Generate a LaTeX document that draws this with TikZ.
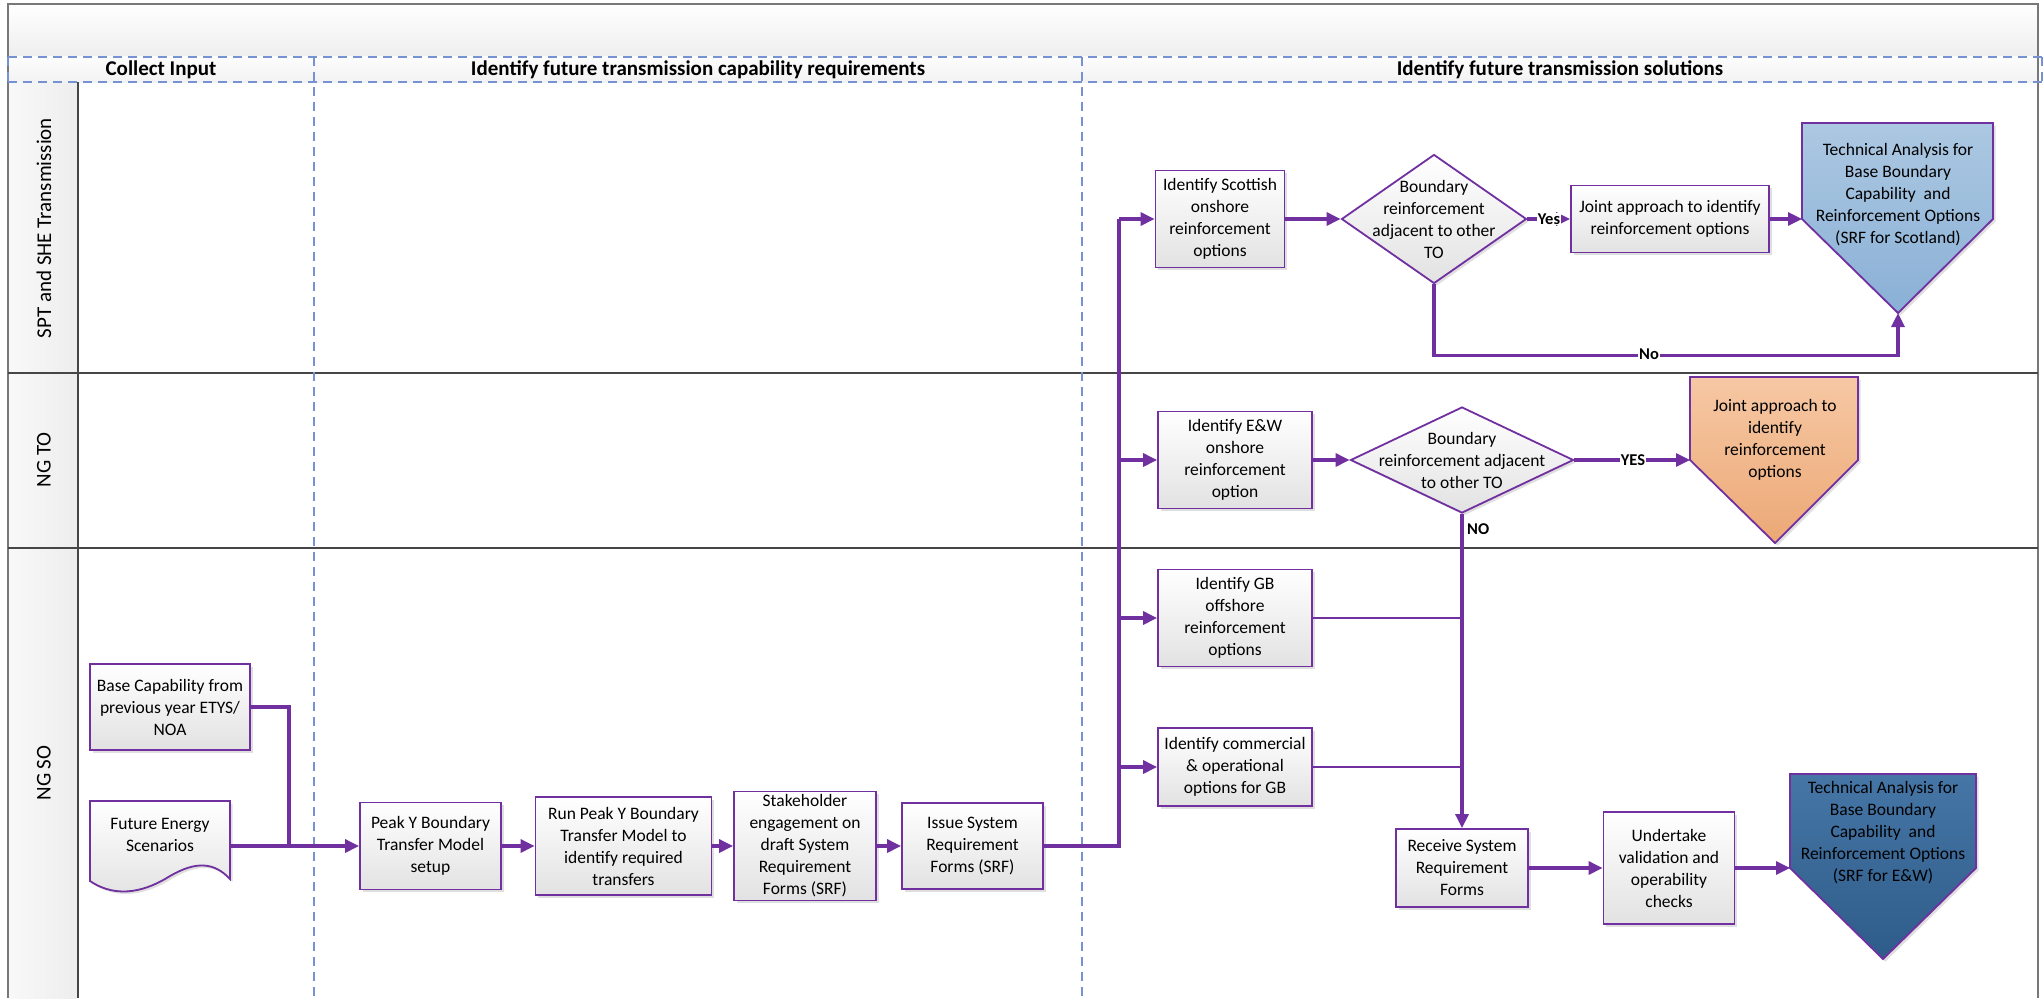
\documentclass[tikz,border=0pt]{standalone}
\usepackage{fontspec}
\setmainfont{Carlito}
\usetikzlibrary{arrows.meta,shadows,shapes.geometric,calc}
\definecolor{purp}{RGB}{112,48,160}
\definecolor{dashblue}{RGB}{118,146,210}
\definecolor{lanegrey}{RGB}{70,70,70}
\definecolor{framegrey}{RGB}{120,120,120}
\definecolor{boxbot}{RGB}{226,226,226}
\definecolor{scotA}{RGB}{172,200,226}
\definecolor{scotB}{RGB}{138,176,214}
\definecolor{orA}{RGB}{246,200,164}
\definecolor{orB}{RGB}{236,168,118}
\definecolor{ewA}{RGB}{70,118,166}
\definecolor{ewB}{RGB}{46,92,138}
\newcommand{\myfbody}{\fontsize{17.5}{22}\selectfont}
\newcommand{\myfhead}{\fontsize{21}{24}\selectfont\bfseries}
\newcommand{\myflane}{\fontsize{21}{24}\selectfont}
\newcommand{\myflab}{\fontsize{16.5}{18}\selectfont\bfseries}
\begin{document}
\begin{tikzpicture}[x=1pt,y=-1pt,
  myshadow/.style={drop shadow={shadow xshift=2.5pt,shadow yshift=-2.5pt,opacity=0.35,fill=gray!70}},
  procbox/.style={draw=purp,line width=1.8pt,top color=white,bottom color=boxbot,align=center,inner sep=1pt,font=\myfbody,myshadow},
  decision/.style={diamond,draw=purp,line width=1.8pt,top color=white,bottom color=boxbot,inner sep=0pt,myshadow},
  plaintext/.style={align=center,inner sep=0pt,font=\myfbody},
  wire/.style={draw=purp,line width=3.1pt},
  thinwire/.style={draw=purp,line width=2.3pt},
  arrowwire/.style={draw=purp,line width=3.1pt,-{Triangle[length=14pt,width=13pt]}},
  flowlab/.style={font=\myflab,fill=white,inner sep=1pt},
  dashline/.style={draw=dashblue,line width=1.2pt,dash pattern=on 9pt off 6pt},
  laneline/.style={draw=lanegrey,line width=1.4pt}
]
\useasboundingbox (0,0) rectangle (2044,998);
% backgrounds
\fill[white] (0,0) rectangle (2044,998);
\fill[top color=white,bottom color=gray!13] (8,4) rectangle (2038,57);
\fill[top color=gray!2,bottom color=gray!10] (8,57) rectangle (2038,82);
\fill[left color=gray!5,right color=gray!14] (8,82) rectangle (78,998);
% frame and lanes
\draw[draw=framegrey,line width=1.6pt] (8,998) -- (8,4) -- (2038,4) -- (2038,998);
\draw[laneline] (8,373) -- (2038,373);
\draw[laneline] (8,548) -- (2038,548);
\draw[laneline] (78,82) -- (78,998);
% dashed phase lines
\draw[dashline] (8,57) -- (2044,57);
\draw[dashline] (8,82) -- (2044,82);
\draw[dashline] (8,57) -- (8,82);
\draw[dashline] (2042,57) -- (2042,82);
\draw[dashline] (314,57) -- (314,998);
\draw[dashline] (1082,57) -- (1082,998);
% headers
\node[font=\myfhead] (h1) at (161,70) {Collect Input};
\node[font=\myfhead] (h2) at (698,70) {Identify future transmission capability requirements};
\node[font=\myfhead] (h3) at (1560,70) {Identify future transmission solutions};
% lane labels
\node[font=\myflane,rotate=90] (l1) at (44,228) {SPT and SHE Transmission};
\node[font=\myflane,rotate=90] (l2) at (44,460) {NG TO};
\node[font=\myflane,rotate=90] (l3) at (44,773) {NG SO};

% ---- NG SO lane, left part
\node[procbox,minimum width=160pt,minimum height=86pt] (base) at (170,707) {Base Capability from\\previous year ETYS/\\NOA};
\path[draw=purp,line width=1.8pt,top color=white,bottom color=boxbot,myshadow]
  (90,801) -- (230,801) -- (230,879)
  .. controls (214,862) and (196,861) .. (170,876)
  .. controls (148,890) and (118,900) .. (90,881) -- cycle;
\node[plaintext] (fes) at (160,835) {Future Energy\\Scenarios};
\coordinate (fesR) at (230,846);
\coordinate (bjoin) at (289,846);

\node[procbox,minimum width=141pt,minimum height=87pt] (peak) at (430.5,846) {Peak Y Boundary\\Transfer Model\\setup};
\node[procbox,minimum width=176pt,minimum height=98pt] (run) at (623.5,846) {Run Peak Y Boundary\\Transfer Model to\\identify required\\transfers};
\node[procbox,minimum width=142pt,minimum height=109pt] (stake) at (805,846) {Stakeholder\\engagement on\\draft System\\Requirement\\Forms (SRF)};
\node[procbox,minimum width=141pt,minimum height=86pt] (issue) at (972.5,846) {Issue System\\Requirement\\Forms (SRF)};

% ---- solutions column
\node[procbox,minimum width=129pt,minimum height=97pt] (scot) at (1220,219) {Identify Scottish\\onshore\\reinforcement\\options};
\node[decision,minimum width=185pt,minimum height=129pt] (d1) at (1434,219) {};
\node[plaintext] (d1t) at (d1) {Boundary\\reinforcement\\adjacent to other\\TO};
\node[procbox,minimum width=198pt,minimum height=67pt] (joint1) at (1670,219) {Joint approach to identify\\reinforcement options};
\path[draw=purp,line width=1.8pt,top color=scotA,bottom color=scotB,myshadow]
  (1802,123) -- (1993,123) -- (1993,219) -- (1898,313) -- (1802,219) -- cycle;
\coordinate (tasL) at (1802,219);
\coordinate (tasT) at (1898,313);
\node[plaintext] (tas) at (1898,195) {Technical Analysis for\\Base Boundary\\Capability\ \ and\\Reinforcement Options\\(SRF for Scotland)};

\node[procbox,minimum width=154pt,minimum height=97pt] (ew) at (1235,460) {Identify E\&W\\onshore\\reinforcement\\option};
\node[decision,minimum width=223pt,minimum height=106pt] (d2) at (1462,460) {};
\node[plaintext] (d2t) at (d2) {Boundary\\reinforcement adjacent\\to other TO};
\path[draw=purp,line width=1.8pt,top color=orA,bottom color=orB,myshadow]
  (1690,377) -- (1858,377) -- (1858,460) -- (1775,543) -- (1690,460) -- cycle;
\coordinate (joint2L) at (1690,460);
\node[plaintext] (joint2) at (1775,440) {Joint approach to\\identify\\reinforcement\\options};

\node[procbox,minimum width=154pt,minimum height=97pt] (gb) at (1235,618) {Identify GB\\offshore\\reinforcement\\options};
\node[procbox,minimum width=154pt,minimum height=78pt] (comm) at (1235,767) {Identify commercial\\\& operational\\options for GB};

\node[procbox,minimum width=132pt,minimum height=78pt] (recv) at (1462,868) {Receive System\\Requirement\\Forms};
\node[procbox,minimum width=131pt,minimum height=112pt] (under) at (1669,868) {Undertake\\validation and\\operability\\checks};
\path[draw=purp,line width=1.8pt,top color=ewA,bottom color=ewB,myshadow]
  (1790,774) -- (1976,774) -- (1976,868) -- (1883,959) -- (1790,868) -- cycle;
\coordinate (taewL) at (1790,868);
\node[plaintext] (taew) at (1883,833) {Technical Analysis for\\Base Boundary\\Capability\ \ and\\Reinforcement Options\\(SRF for E\&W)};

% ---- connectors
\draw[wire] (base.east) -| (bjoin);
\draw[arrowwire] (fesR) -- (peak.west);
\draw[arrowwire] (peak.east) -- (run.west);
\draw[arrowwire] (run.east) -- (stake.west);
\draw[arrowwire] (stake.east) -- (issue.west);
\coordinate (busB) at (1119,846);
\coordinate (busT) at (1119,219);
\draw[wire] (issue.east) -- (busB) -- (busT);
\draw[arrowwire] (busT) -- (scot.west);
\draw[arrowwire] (busT |- ew.west) -- (ew.west);
\draw[arrowwire] (busT |- gb.west) -- (gb.west);
\draw[arrowwire] (busT |- comm.west) -- (comm.west);

\draw[arrowwire] (scot.east) -- (d1.west);
\draw[arrowwire] (d1.east) -- (joint1.west);
\node[flowlab] (yes1) at (1549,219) {Yes};
\draw[arrowwire] (joint1.east) -- (tasL);
\draw[arrowwire] (d1.south) -- ++(0,71) -| (tasT);
\node[flowlab] (no1) at (1649,354) {No};

\draw[arrowwire] (ew.east) -- (d2.west);
\draw[arrowwire] (d2.east) -- (joint2L);
\node[flowlab] (yes2) at (1633,460) {YES};
\draw[arrowwire] (d2.south) -- (recv.north);
\node[flowlab,fill=none,anchor=west] (no2) at (1466,529) {NO};
\draw[thinwire] (gb.east) -- (gb.east -| recv.north);
\draw[thinwire] (comm.east) -- (comm.east -| recv.north);

\draw[arrowwire] (recv.east) -- (under.west);
\draw[arrowwire] (under.east) -- (taewL);
\end{tikzpicture}
\end{document}
